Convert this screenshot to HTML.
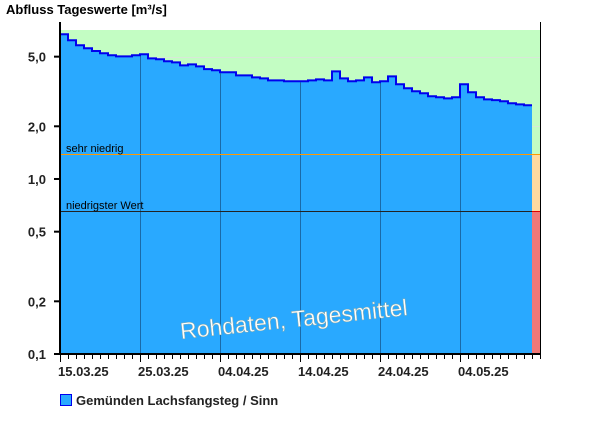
<!DOCTYPE html>
<html><head><meta charset="utf-8"><style>
body{margin:0;background:#fff;font-family:"Liberation Sans",sans-serif}
svg text{font-family:"Liberation Sans",sans-serif}
</style></head><body>
<svg id="c" width="600" height="426" viewBox="0 0 600 426" xmlns="http://www.w3.org/2000/svg">
<text x="6" y="14" font-size="13" font-weight="bold" fill="#000">Abfluss Tageswerte [m³/s]</text>
<g id="plot"></g>
</svg>
<script>
const values=[6.71,6.20,5.81,5.58,5.39,5.23,5.09,5.02,5.02,5.09,5.16,4.89,4.83,4.71,4.64,4.46,4.52,4.40,4.24,4.18,4.07,4.07,3.91,3.91,3.81,3.76,3.66,3.66,3.62,3.62,3.62,3.66,3.71,3.66,4.12,3.76,3.62,3.66,3.81,3.57,3.62,3.86,3.48,3.30,3.17,3.09,2.97,2.93,2.89,2.93,3.48,3.13,2.93,2.85,2.82,2.78,2.71,2.67,2.64];
const yTicks=[5,2,1,0.5,0.2,0.1];
const yTickLabels=["5,0","2,0","1,0","0,5","0,2","0,1"];
const xTickLabels=["15.03.25","25.03.25","04.04.25","14.04.25","24.04.25","04.05.25"];
const xTickDays=[0,10,20,30,40,50];
const levelValues=[1.39,0.656];
const levelLabels=["sehr niedrig","niedrigster Wert"];
const totalDays=60, yMin=0.1, yMax=7.1;
const L=60,R=540,T=30,B=354;
const NS="http://www.w3.org/2000/svg";
const g=document.getElementById('plot');
function x(d){return L+(R-L)*d/totalDays;}
function y(v){return B-(B-T)*(Math.log10(v)-Math.log10(yMin))/(Math.log10(yMax)-Math.log10(yMin));}
function el(t,a,p){const e=document.createElementNS(NS,t);for(const k in a)e.setAttribute(k,a[k]);(p||g).appendChild(e);return e;}
let e;
e=el('rect',{x:L,y:T,width:R-L,height:B-T,fill:'#c3fdc3'});


[5,2].forEach(v=>{e=el('line',{x1:L,x2:R,y1:Math.round(y(v))+0.5,y2:Math.round(y(v))+0.5,stroke:'#d8e8d8','stroke-width':1});

});
const sx=x(values.length);
e=el('rect',{x:sx,y:y(levelValues[0]),width:R-sx,height:y(levelValues[1])-y(levelValues[0]),fill:'#ffd9a0'});


e=el('rect',{x:sx,y:y(levelValues[1]),width:R-sx,height:B-y(levelValues[1]),fill:'#f07878'});


let d='M'+L+','+B;
values.forEach((v,i)=>{d+=' L'+x(i)+','+y(v)+' L'+x(i+1)+','+y(v);});
d+=' L'+x(values.length)+','+B+' Z';
e=el('path',{d:d,fill:'#29a9ff'});


xTickDays.forEach((dd,i)=>{if(i>0){e=el('line',{x1:x(dd)+0.5,x2:x(dd)+0.5,y1:y(values[dd])+1,y2:B,stroke:'#1a6aa8','stroke-width':1});

}});
let ld='';
values.forEach((v,i)=>{ld+=(i?' L':'M')+x(i)+','+y(v)+' L'+x(i+1)+','+y(v);});
e=el('path',{d:ld,fill:'none',stroke:'#0000ee','stroke-width':2});


levelValues.forEach((v,i)=>{
const ly=Math.round(y(v))+0.5;
e=el('line',{x1:L,x2:sx,y1:ly,y2:ly,stroke:i==0?'#ff9900':'#222','stroke-width':1});


e=el('line',{x1:sx,x2:R,y1:ly,y2:ly,stroke:i==0?'#ff9900':'#e00000','stroke-width':1});


e=el('text',{x:66,y:y(v)-2,'font-size':11,fill:'#000'});e.textContent=levelLabels[i];

});
e=el('line',{x1:L,x2:L,y1:22,y2:B,stroke:'#000','stroke-width':2});


e=el('line',{x1:R+0.5,x2:R+0.5,y1:22,y2:B,stroke:'#000','stroke-width':1});


e=el('line',{x1:L-6,x2:R+1,y1:B,y2:B,stroke:'#000','stroke-width':2});


yTicks.forEach((v,i)=>{
e=el('line',{x1:L-6,x2:L,y1:y(v),y2:y(v),stroke:'#000','stroke-width':2});


e=el('text',{x:L-14,y:y(v)+5,'font-size':13,'font-weight':'bold','text-anchor':'end',fill:'#222'});e.textContent=yTickLabels[i];

});
for(let i=0;i<=totalDays;i++){
const big=xTickDays.includes(i);
e=el('line',{x1:x(i)+0.5,x2:x(i)+0.5,y1:B,y2:B+(big?8:5),stroke:'#000','stroke-width':1});

}
xTickDays.forEach((dd,i)=>{
e=el('text',{x:x(dd)-2,y:B+22,'font-size':13,'font-weight':'bold',fill:'#222'});e.textContent=xTickLabels[i];

});
e=el('text',{x:181,y:339,'font-size':23,fill:'#fff',stroke:'#8aa','stroke-width':0.5,transform:'rotate(-6 181 339)'});e.textContent='Rohdaten, Tagesmittel';


e=el('rect',{x:60.5,y:394.5,width:11,height:11,fill:'#29a9ff',stroke:'#0000ee','stroke-width':1});


e=el('text',{x:76,y:405,'font-size':13,'font-weight':'bold',fill:'#222'});e.textContent='Gemünden Lachsfangsteg / Sinn';


</script>
</body></html>
